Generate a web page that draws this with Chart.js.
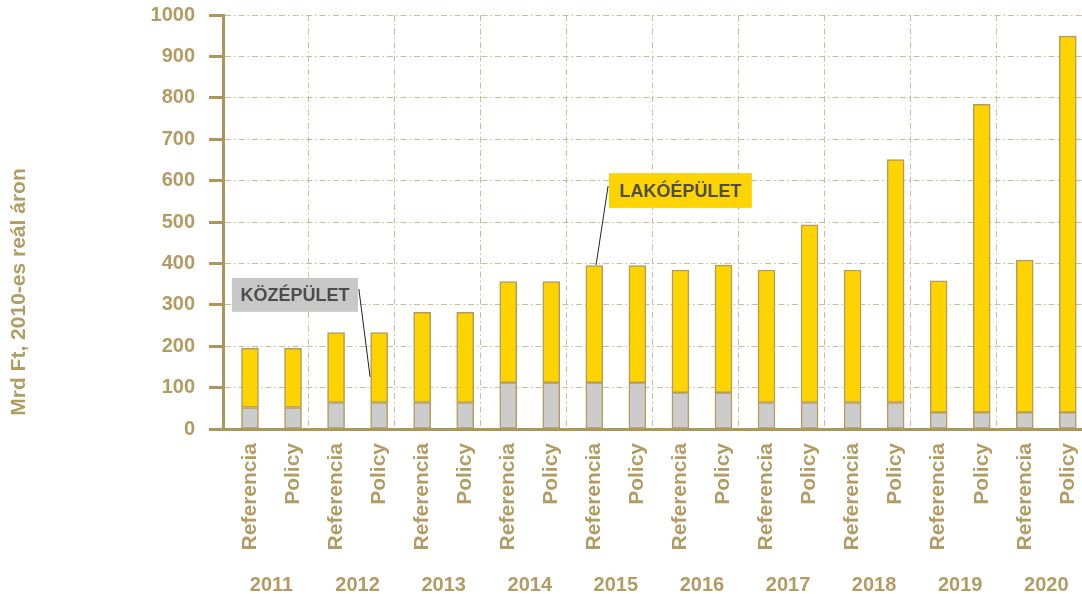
<!DOCTYPE html>
<html>
<head>
<meta charset="utf-8">
<script src="https://cdn.jsdelivr.net/npm/chart.js@4/dist/chart.umd.min.js"></script>
<style>
  html, body { margin: 0; padding: 0; background: #fff; }
  #wrap { width: 1082px; height: 594px; position: relative; }
</style>
</head>
<body>
<div id="wrap"><canvas id="chart"></canvas></div>
<script>
const years = ["2011", "2012", "2013", "2014", "2015", "2016", "2017", "2018", "2019", "2020"];
const scenarios = ["Referencia", "Policy"];

// Mrd Ft, 2010-es reál áron — one value per bar (Referencia, Policy for each year)
const kozepulet = [52, 52, 64, 64, 64, 64, 112, 112, 112, 112, 88, 88, 64, 64, 64, 64, 40, 40, 40, 40];
const lakoepulet = [143, 143, 169, 169, 218, 218, 244, 244, 283, 283, 296, 308, 320, 429, 320, 587, 318, 744, 368, 909];

const yTicks = [0, 100, 200, 300, 400, 500, 600, 700, 800, 900, 1000];

const TAN = "#b39c63";
const AXIS = "#ad9659";
const GRID = "#cbbd98";
const FONT = "'Liberation Sans', Arial, sans-serif";

Chart.defaults.font.family = FONT;

const toPoints = arr => arr.map((v, i) => ({ x: i, y: v }));

// bar slots, year-group separators and year label positions on the x scale
const barSlots = kozepulet.map((_, i) => i);
const separators = years.slice(1).map((_, k) => 1.35 + 2 * k);
const yearSlots = years.map((_, k) => 0.5 + 2 * k);

// callout boxes: [x1, x2] / [yTop, yBottom] in data units, leader line from -> to
const callouts = [
  { text: "KÖZÉPÜLET", bg: "#c8c8c8", x: [-0.42, 2.51], y: [365, 283], from: [2.53, 338], to: [2.79, 126] },
  { text: "LAKÓÉPÜLET", bg: "#fdd300", x: [8.34, 11.66], y: [618, 534], from: [8.32, 587], to: [8.04, 396] }
];

const calloutPlugin = {
  id: "callouts",
  afterDatasetsDraw(chart) {
    const { ctx, scales: { x, y } } = chart;
    ctx.save();
    callouts.forEach(c => {
      ctx.strokeStyle = "#222";
      ctx.lineWidth = 1;
      ctx.beginPath();
      ctx.moveTo(x.getPixelForValue(c.from[0]), y.getPixelForValue(c.from[1]));
      ctx.lineTo(x.getPixelForValue(c.to[0]), y.getPixelForValue(c.to[1]));
      ctx.stroke();

      const left = x.getPixelForValue(c.x[0]);
      const right = x.getPixelForValue(c.x[1]);
      const top = y.getPixelForValue(c.y[0]);
      const bottom = y.getPixelForValue(c.y[1]);
      ctx.fillStyle = c.bg;
      ctx.fillRect(left, top, right - left, bottom - top);
      ctx.fillStyle = "#4d4d4d";
      ctx.font = "bold 18px " + FONT;
      ctx.textAlign = "center";
      ctx.textBaseline = "middle";
      ctx.fillText(c.text, (left + right) / 2, (top + bottom) / 2 + 1);
    });
    ctx.restore();
  }
};

const yTitlePlugin = {
  id: "yTitle",
  afterDraw(chart) {
    const { ctx } = chart;
    ctx.save();
    ctx.translate(19, 292);
    ctx.rotate(-Math.PI / 2);
    ctx.fillStyle = TAN;
    ctx.font = "bold 21px " + FONT;
    ctx.textAlign = "center";
    ctx.textBaseline = "middle";
    ctx.fillText("Mrd Ft, 2010-es reál áron", 0, 0);
    ctx.restore();
  }
};

const barStyle = {
  borderColor: "#b49c5c",
  borderWidth: 1.5,
  borderSkipped: false,
  barThickness: 17
};

// keep the horizontal scales flush with the plot edges
const noSidePadding = scale => {
  scale.paddingLeft = 0;
  scale.paddingRight = 0;
};

new Chart(document.getElementById("chart"), {
  type: "bar",
  data: {
    datasets: [
      Object.assign({ label: "KÖZÉPÜLET", data: toPoints(kozepulet), backgroundColor: "#cccccc" }, barStyle),
      Object.assign({ label: "LAKÓÉPÜLET", data: toPoints(lakoepulet), backgroundColor: "#fdd300" }, barStyle)
    ]
  },
  options: {
    responsive: true,
    maintainAspectRatio: false,
    animation: false,
    layout: { padding: { top: 15, right: 0, bottom: 0, left: 0 } },
    plugins: {
      legend: { display: false },
      tooltip: { enabled: false }
    },
    scales: {
      x: {
        type: "linear",
        stacked: true,
        offset: false,
        min: -0.627,
        max: 19.33,
        weight: 0,
        afterBuildTicks(scale) {
          scale.ticks = barSlots.concat(separators).sort((a, b) => a - b).map(v => ({ value: v }));
        },
        afterFit(scale) {
          scale.height = 128;
          noSidePadding(scale);
        },
        ticks: {
          autoSkip: false,
          minRotation: 90,
          maxRotation: 90,
          padding: 14,
          color: TAN,
          font: { size: 21, weight: "bold" },
          callback: v => Number.isInteger(v) ? scenarios[v % 2] : ""
        },
        grid: {
          offset: false,
          drawTicks: false,
          color: c => (c.tick && !Number.isInteger(c.tick.value)) ? GRID : "rgba(0,0,0,0)",
          lineWidth: 1
        },
        border: { display: true, color: AXIS, width: 3, dash: [6, 3, 1.5, 3] }
      },
      year: {
        type: "linear",
        position: "bottom",
        offset: false,
        min: -0.627,
        max: 19.33,
        weight: 1,
        afterBuildTicks(scale) {
          scale.ticks = yearSlots.map(v => ({ value: v }));
        },
        afterFit(scale) {
          scale.height = 37;
          noSidePadding(scale);
        },
        ticks: {
          autoSkip: false,
          maxRotation: 0,
          padding: 16,
          color: TAN,
          font: { size: 20, weight: "bold" },
          callback: v => years[Math.round((v - 0.5) / 2)]
        },
        grid: { display: false, drawTicks: false },
        border: { display: false }
      },
      y: {
        stacked: true,
        min: 0,
        max: 1000,
        afterBuildTicks(scale) {
          scale.ticks = yTicks.map(v => ({ value: v }));
        },
        afterFit(scale) {
          scale.width = 223;
          scale.paddingTop = 0;
          scale.paddingBottom = 0;
        },
        ticks: {
          padding: 14,
          color: TAN,
          font: { size: 20, weight: "bold" },
          callback: v => String(v)
        },
        grid: {
          color: GRID,
          lineWidth: 1,
          tickLength: 14,
          tickWidth: 3,
          tickColor: AXIS,
          tickBorderDash: []
        },
        border: { display: true, color: AXIS, width: 3, dash: [6, 3, 1.5, 3] }
      }
    }
  },
  plugins: [calloutPlugin, yTitlePlugin]
});
</script>
</body>
</html>
